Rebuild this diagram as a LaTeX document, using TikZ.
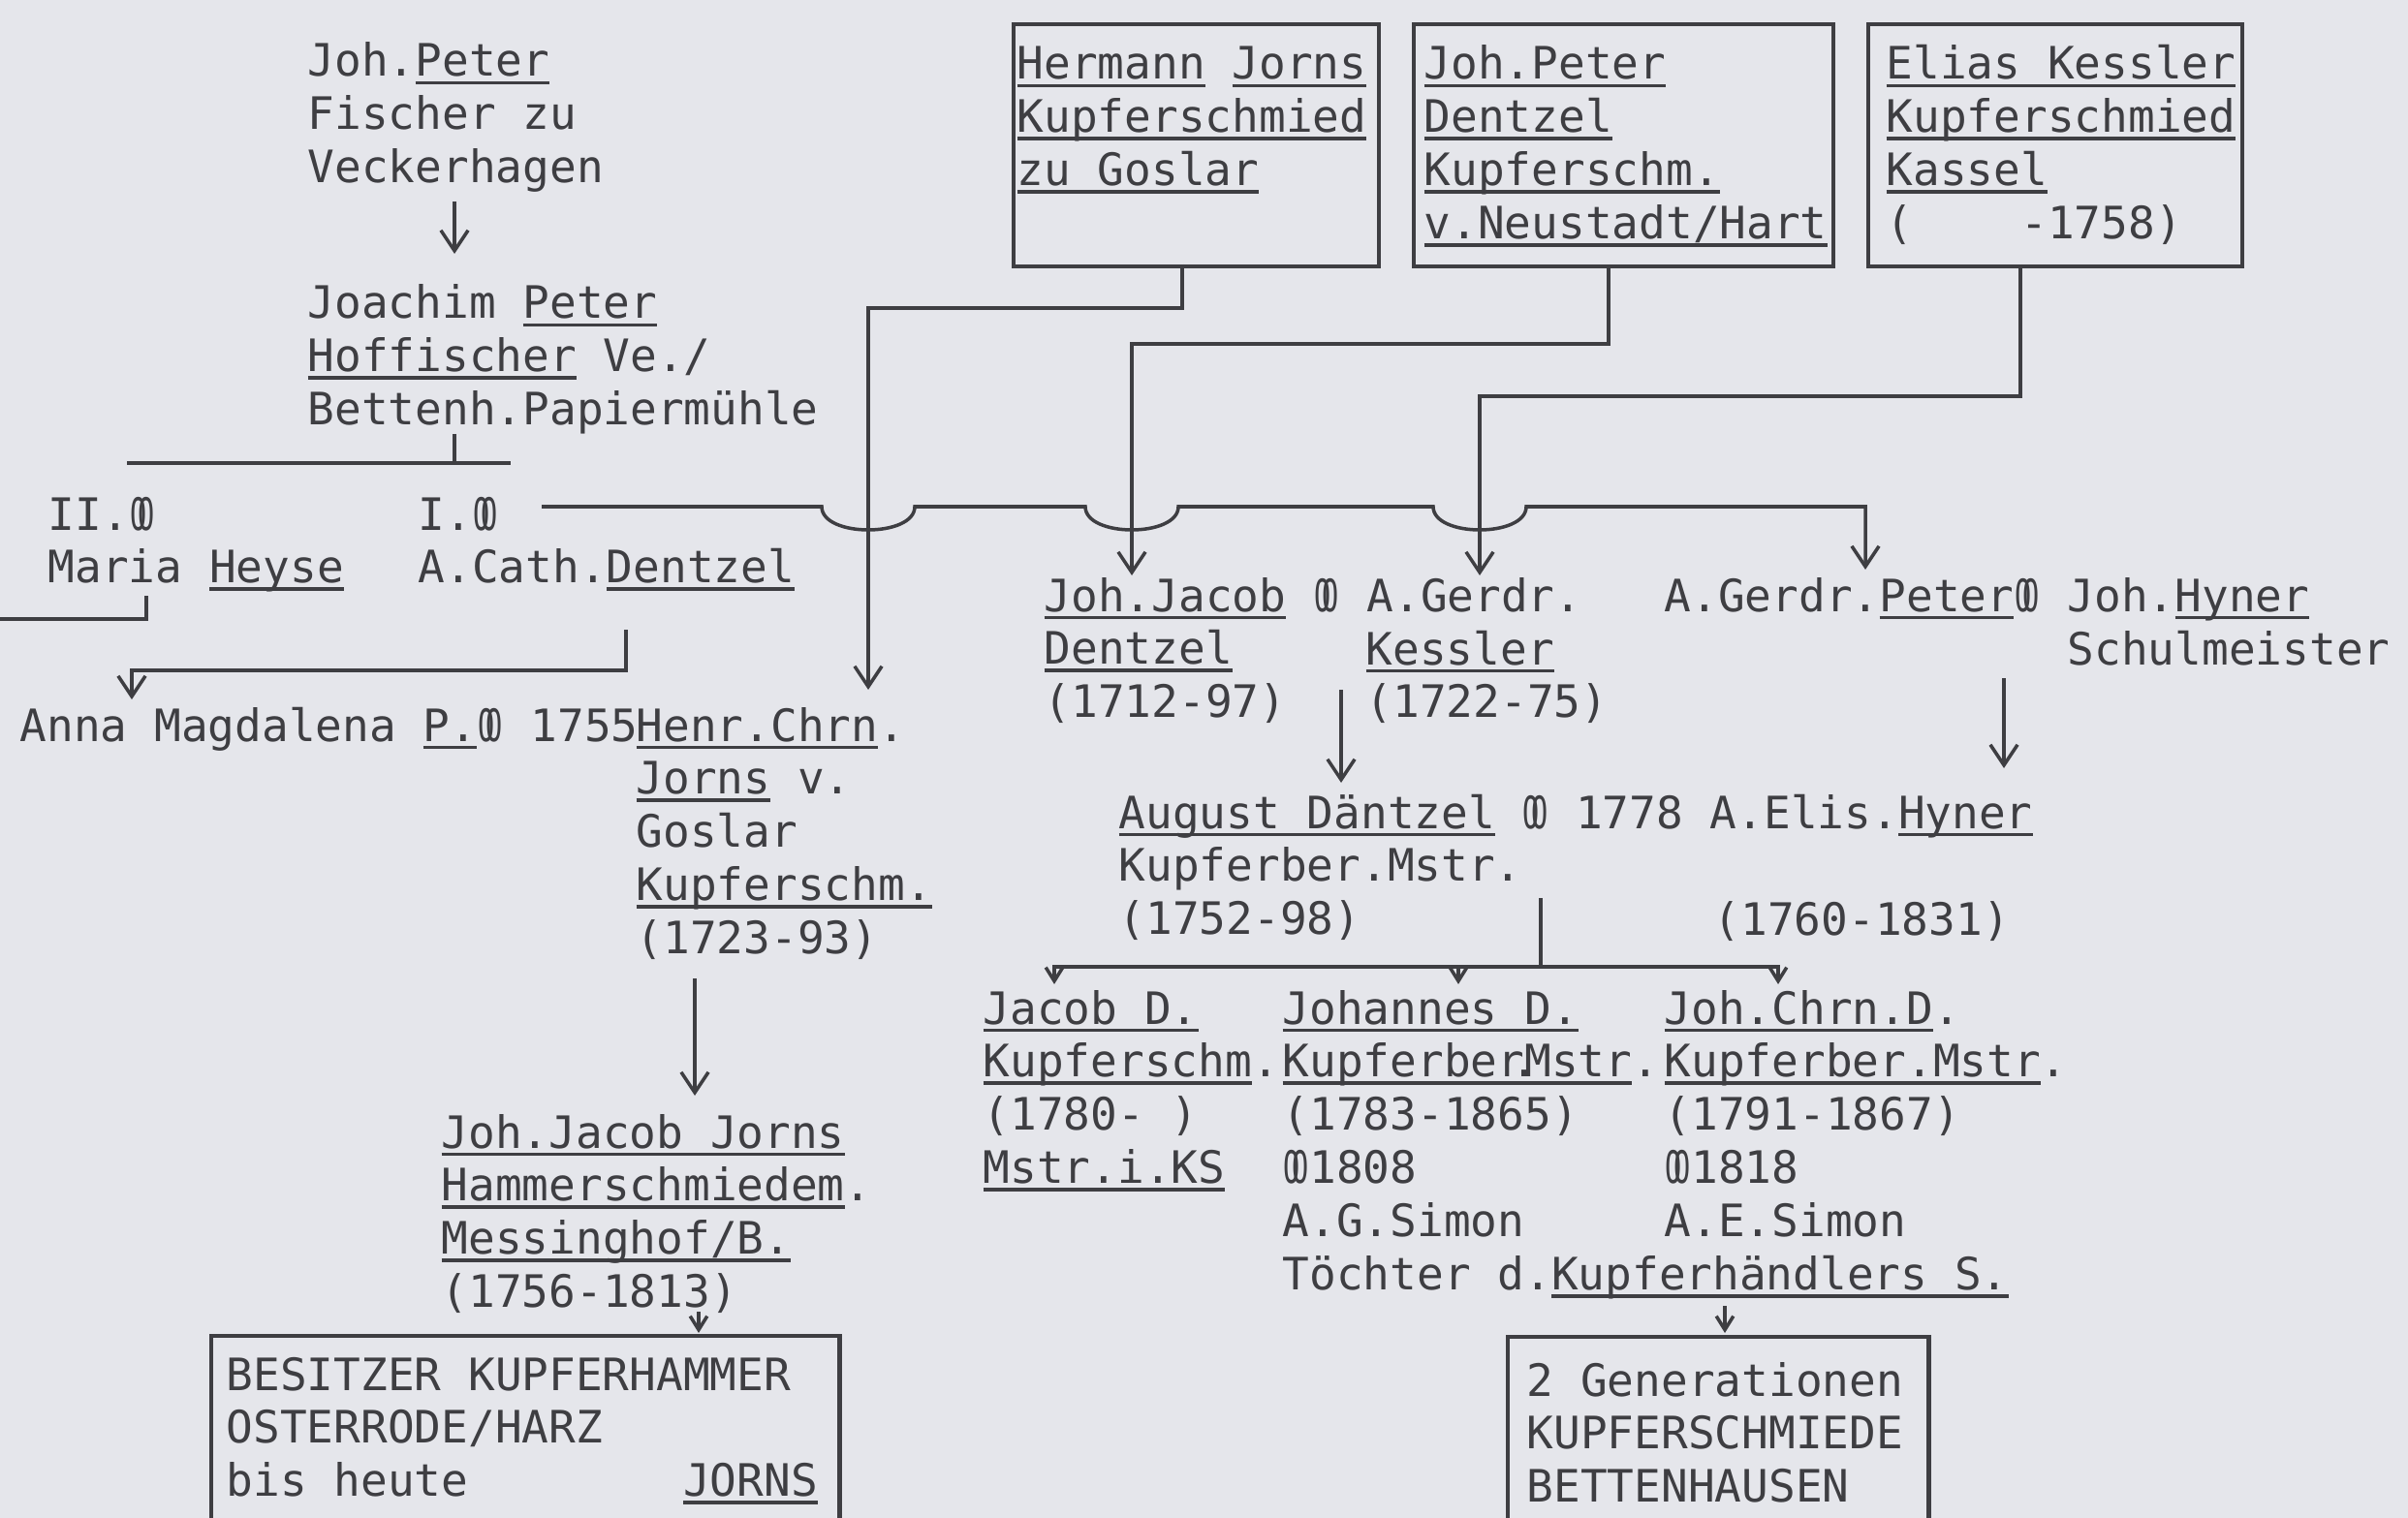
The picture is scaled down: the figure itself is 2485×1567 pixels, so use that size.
\documentclass[tikz,border=0pt]{standalone}
\usepackage{fontspec}
\setmonofont{DejaVu Sans Mono}
\usetikzlibrary{arrows.meta}
\definecolor{paper}{RGB}{229,230,235}
\definecolor{ink}{RGB}{62,62,66}
\newcommand\ul[1]{\setbox0\hbox{#1}\rlap{\color{ink}\rule[-2.4pt]{\wd0}{1.1pt}}\box0\relax}
\newcommand\mar{\makebox[0.602em]{\scalebox{0.62}[1]{O\kern-0.32em O}}}
\newcommand\lines[1]{\begin{tabular}[t]{@{}l@{}}#1\end{tabular}}
\tikzset{
  txt/.style={anchor=base west, inner sep=0pt, text=ink,
    font=\ttfamily\fontsize{13.1}{15.6}\selectfont},
  ln/.style={draw=ink, line width=1pt},
  boxn/.style={draw=ink, line width=1.2pt, anchor=north west, inner sep=0pt},
  arr/.style={ln, -{Straight Barb[length=6pt,width=8pt]}},
  sarr/.style={ln, -{Straight Barb[length=4pt,width=5pt]}},
}
\begin{document}
\begin{tikzpicture}[x=0.01cm,y=-0.01cm]
\useasboundingbox (0,0) rectangle (2485,1567);
\fill[paper] (0,0) rectangle (2485,1567);
\clip (0,0) rectangle (2485,1567);

% boxes
\node[boxn, minimum width=3.77cm, minimum height=2.50cm] (B1) at (1044,23) {};
\node[boxn, minimum width=4.33cm, minimum height=2.50cm] (B2) at (1457,23) {};
\node[boxn, minimum width=3.86cm, minimum height=2.50cm] (B3) at (1926,23) {};
\node[boxn, minimum width=6.48cm, minimum height=2.40cm] (B4) at (216,1377) {};
\node[boxn, minimum width=4.34cm, minimum height=2.40cm] (B5) at (1554,1378) {};

% texts
\node[txt] (jp) at (317,79) {\lines{Joh.\ul{Peter}\\Fischer zu\\Veckerhagen}};
\node[txt] (jo) at (317,329) {\lines{Joachim \ul{Peter}\\\ul{Hoffischer} Ve./\\Bettenh.Papiermühle}};
\node[txt] (mh) at (49,547) {\lines{II.\mar\\Maria \ul{Heyse}}};
\node[txt] (cd) at (431,547) {\lines{I.\mar\\A.Cath.\ul{Dentzel}}};
\node[txt] (am) at (20,765) {Anna Magdalena \ul{P.}\mar{} 1755};
\node[txt] (hc) at (656,765) {\lines{\ul{Henr.Chrn}.\\\ul{Jorns} v.\\Goslar\\\ul{Kupferschm.}\\(1723-93)}};
\node[txt] (t1) at (1049,82) {\lines{\ul{Hermann} \ul{Jorns}\\\ul{Kupferschmied}\\\ul{zu Goslar}}};
\node[txt] (t2) at (1469,82) {\lines{\ul{Joh.Peter}\\\ul{Dentzel}\\\ul{Kupferschm.}\\\ul{v.Neustadt/Hart}}};
\node[txt] (t3) at (1946,82) {\lines{\ul{Elias Kessler}\\\ul{Kupferschmied}\\\ul{Kassel}\\(~~~~-1758)}};
\node[txt] (jj) at (1077,631) {\lines{\ul{Joh.Jacob} \mar{} A.Gerdr.\\\ul{Dentzel}\\(1712-97)}};
\node[txt] (ke) at (1409,686) {\lines{\ul{Kessler}\\(1722-75)}};
\node[txt] (gp) at (1717,631) {A.Gerdr.\ul{Peter}\mar{} Joh.\ul{Hyner}};
\node[txt] (sm) at (2133,686) {Schulmeister};
\node[txt] (ad) at (1154,855) {\lines{\ul{August Däntzel} \mar{} 1778 A.Elis.\ul{Hyner}\\Kupferber.Mstr.\\(1752-98)}};
\node[txt] (eh) at (1768,965) {(1760-1831)};
\node[txt] (c1) at (1014,1057) {\lines{\ul{Jacob D.}\\\ul{Kupferschm}.\\(1780-~)\\\ul{Mstr.i.KS}}};
\node[txt] (c2) at (1323,1057) {\lines{\ul{Johannes D.}\\\ul{Kupferber\makebox[0pt]{.}Mstr}.\\(1783-1865)\\\mar1808\\A.G.Simon\\Töchter d.\ul{Kupferhändlers S.}}};
\node[txt] (c3) at (1717,1057) {\lines{\ul{Joh.Chrn.D}.\\\ul{Kupferber.Mstr}.\\(1791-1867)\\\mar1818\\A.E.Simon}};
\node[txt] (jjj) at (455,1185) {\lines{\ul{Joh.Jacob Jorns}\\\ul{Hammerschmiedem}.\\\ul{Messinghof/B.}\\(1756-1813)}};
\node[txt] (bt4) at (233,1435) {\lines{BESITZER KUPFERHAMMER\\OSTERRODE/HARZ\\bis heute~~~~~~~~\ul{JORNS}}};
\node[txt] (bt5) at (1575,1441) {\lines{2 Generationen\\KUPFERSCHMIEDE\\BETTENHAUSEN}};

% coordinates
\coordinate (a1) at (469,208);  \coordinate (a2) at (469,262);
\coordinate (k1) at (469,448);  \coordinate (k2) at (469,478);
\coordinate (hl) at (131,478);  \coordinate (hr) at (527,478);
\coordinate (lb1) at (0,639);   \coordinate (lb2) at (151,615);
\coordinate (an1) at (646,650); \coordinate (an3) at (136,692); \coordinate (an2) at (136,722);
\coordinate (m0) at (559,523);  \coordinate (m1) at (1925,523); \coordinate (m2) at (1925,588);
\coordinate (jr1) at (1220,273); \coordinate (jr2) at (896,318); \coordinate (jr3) at (896,712);
\coordinate (dz1) at (1660,273); \coordinate (dz2) at (1168,355); \coordinate (dz3) at (1168,594);
\coordinate (ks1) at (2085,273); \coordinate (ks2) at (1527,409); \coordinate (ks3) at (1527,594);
\coordinate (au1) at (1384,712); \coordinate (au2) at (1384,808);
\coordinate (hy1) at (2068,700); \coordinate (hy2) at (2068,793);
\coordinate (ch0) at (1590,927); \coordinate (ch1) at (1590,998);
\coordinate (chL) at (1088,1016); \coordinate (chM) at (1505,1016); \coordinate (chR) at (1835,1016);
\coordinate (jo1) at (717,1010); \coordinate (jo2) at (717,1131);
\coordinate (os1) at (721,1354); \coordinate (os2) at (721,1376);
\coordinate (bh1) at (1780,1348); \coordinate (bh2) at (1780,1376);

% connectors
\draw[arr] (a1) -- (a2);
\draw[ln] (k1) -- (k2);
\draw[ln] (hl) -- (hr);
\draw[ln] (lb1) -| (lb2);
\draw[arr] (an1) |- (an3) -- (an2);
\draw[arr] (m0) -- (848,523) .. controls (848,555) and (944,555) .. (944,523)
  -- (1120,523) .. controls (1120,555) and (1216,555) .. (1216,523)
  -- (1479,523) .. controls (1479,555) and (1575,555) .. (1575,523)
  -- (m1) -- (m2);
\draw[arr] (jr1) |- (jr2) -- (jr3);
\draw[arr] (dz1) |- (dz2) -- (dz3);
\draw[arr] (ks1) |- (ks2) -- (ks3);
\draw[arr] (au1) -- (au2);
\draw[arr] (hy1) -- (hy2);
\draw[ln] (ch0) -- (ch1);
\draw[sarr] (ch1) -| (chL);
\draw[sarr] (ch1) -| (chR);
\draw[sarr] (chM |- ch1) -- (chM);
\draw[arr] (jo1) -- (jo2);
\draw[sarr] (os1) -- (os2);
\draw[sarr] (bh1) -- (bh2);
\end{tikzpicture}
\end{document}
